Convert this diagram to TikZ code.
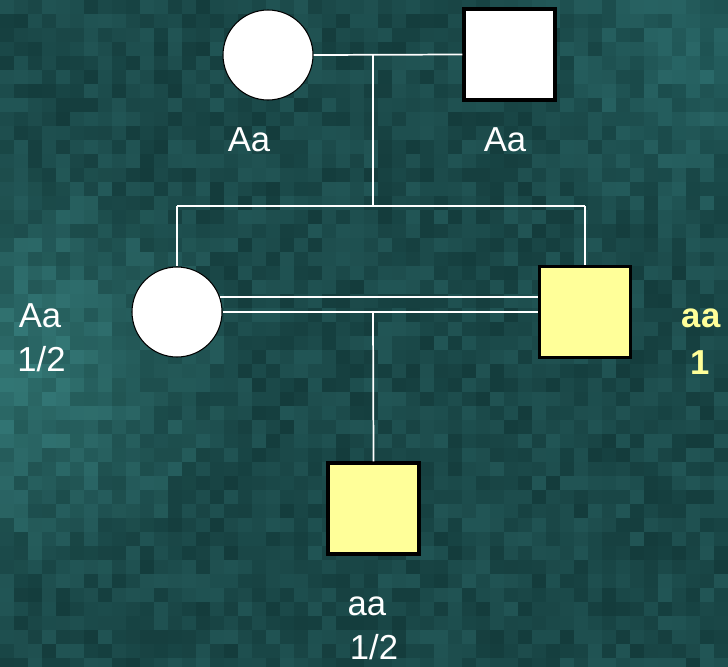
\documentclass[tikz,border=0pt]{standalone}
\usepackage{fontspec}
\setmainfont{Liberation Sans}
\definecolor{aff}{RGB}{255,255,153}
\tikzset{
  female/.style={circle, draw=black, line width=0.8pt, fill=white, minimum size=67.5pt, inner sep=0pt},
  male/.style={rectangle, draw=black, line width=2.6pt, fill=white, minimum size=68pt, inner sep=0pt},
  affected/.style={fill=aff},
  link/.style={draw=white, line width=1.3pt},
  lbl/.style={text=white, font=\fontsize{26}{28}\selectfont, anchor=base, inner sep=0pt},
  lblaff/.style={text=aff, font=\fontsize{26}{28}\selectfont\bfseries, anchor=base, inner sep=0pt}
}
\begin{document}
\begin{tikzpicture}[x=0.75pt,y=-0.75pt]
\useasboundingbox (0,0) rectangle (728,667);
% textured background
\pgfmathsetseed{7}
\foreach \i in {0,...,51}{
  \foreach \j in {0,...,47}{
    \pgfmathsetmacro{\t}{rnd}
    \pgfmathsetmacro{\l}{max(0,1-sqrt(((\i*14-10)/100)^2+((\j*14-360)/100)^2)/2.3)}
    \pgfmathsetmacro{\m}{max(0,1-sqrt(((\i*14-700)/100)^2+((\j*14-60)/100)^2)/2.0)}
    \pgfmathtruncatemacro{\R}{20+14*\t+22*\l+10*\m}
    \pgfmathtruncatemacro{\G}{60+26*\t+42*\l+22*\m}
    \pgfmathtruncatemacro{\B}{60+26*\t+40*\l+22*\m}
    \definecolor{blk}{RGB}{\R,\G,\B}
    \fill[blk, draw=blk, line width=0.3pt] (\i*14,\j*14) rectangle ++(14,14);
  }
}
% generation I
\node[female] (m1) at (268,55) {};
\node[male] (f1) at (509.5,54.5) {};
% generation II
\node[female] (m2) at (177,312) {};
\node[male, affected] (f2) at (585,312) {};
% generation III
\node[male, affected] (p) at (373.5,508.5) {};
% connectors
\coordinate (c1) at (373,55);
\coordinate (c2) at (373,206);
\coordinate (cl) at (177,206);
\coordinate (cr) at (585,206);
\coordinate (c3) at (373,312);
\draw[link] (m1.east) -- (f1.west);
\draw[link] (c1) -- (c2);
\draw[link] (cl) -- (cr);
\draw[link] (cl) -- (m2.north);
\draw[link] (cr) -- (f2.north);
\draw[link] (m2.19.5) -- (f2.west |- m2.19.5);
\draw[link] (m2.east) -- (f2.west);
\draw[link] (c3) -- (p.north);
% labels
\node[lbl] (t1) at (249,151.5) {Aa};
\node[lbl] (t2) at (505,151.5) {Aa};
\node[lbl] (t3) at (40,327.5) {Aa};
\node[lbl] (t4) at (41.5,371.5) {1/2};
\node[lblaff] (t5) at (701,327) {aa};
\node[lblaff] (t6) at (700,374.5) {1};
\node[lbl] (t7) at (367,615) {aa};
\node[lbl] (t8) at (374,659.5) {1/2};
\end{tikzpicture}
\end{document}
